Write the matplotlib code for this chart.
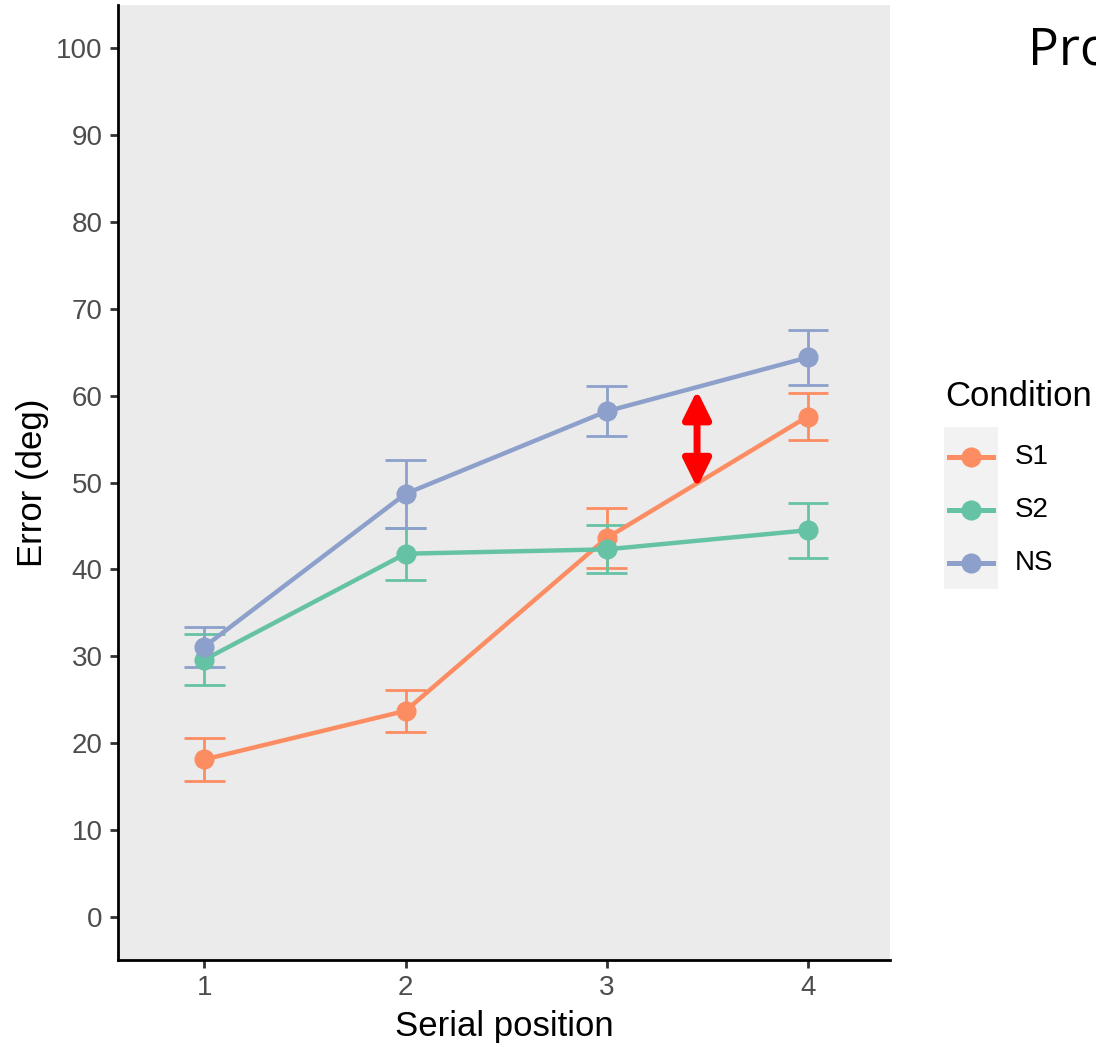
import matplotlib.pyplot as plt
import numpy as np
from matplotlib.lines import Line2D
from matplotlib.patches import FancyArrowPatch, Rectangle

# Mean recall error per serial position, with error bar half-widths
positions = [1, 2, 3, 4]
conditions = ["S1", "S2", "NS"]
mean_s1 = [18.1, 23.7, 43.6, 57.6]
mean_s2 = [29.6, 41.8, 42.3, 44.5]
mean_ns = [31.1, 48.7, 58.2, 64.4]
err_s1 = [2.45, 2.45, 3.45, 2.75]
err_s2 = [2.9, 3.0, 2.75, 3.15]
err_ns = [2.3, 3.9, 2.9, 3.2]

# Gap highlighted between NS and S1 lines
gap_x = 3.45
gap_lo, gap_hi = 49.4, 60.6

colors = ['#FC8D62', '#66C2A5', '#8DA0CB']
means = [mean_s1, mean_s2, mean_ns]
errs = [err_s1, err_s2, err_ns]

plt.rcParams['font.family'] = ['Liberation Sans', 'DejaVu Sans']

W, H = 1096, 1047
fig = plt.figure(figsize=(W / 100, H / 100), dpi=100)
ax = fig.add_axes([0.1077, 0.0831, 0.7044, 0.9121])
ax.set_facecolor('#EBEBEB')

x = np.array(positions)
cap = 0.1
for i, (m, e, c) in enumerate(zip(means, errs, colors)):
    m = np.array(m)
    e = np.array(e)
    # error bars: vertical stem plus caps
    ax.vlines(x, m - e, m + e, color=c, lw=2.0, zorder=2 + i * 0.1)
    ax.hlines(m - e, x - cap, x + cap, color=c, lw=2.0, zorder=2 + i * 0.1)
    ax.hlines(m + e, x - cap, x + cap, color=c, lw=2.0, zorder=2 + i * 0.1)
for i, (m, c) in enumerate(zip(means, colors)):
    ax.plot(x, m, color=c, lw=3.2, zorder=3 + i * 0.1)
for i, (m, c) in enumerate(zip(means, colors)):
    ax.plot(x, m, 'o', color=c, ms=13.5, zorder=4 + i * 0.1)

arrow = FancyArrowPatch((gap_x, gap_lo), (gap_x, gap_hi),
                        arrowstyle='<|-|>,head_length=0.85,head_width=0.42',
                        mutation_scale=20, color='#FF0000', lw=5,
                        shrinkA=0, shrinkB=0, zorder=6)
ax.add_patch(arrow)

ax.set_xlim(0.57, 4.41)
ax.set_ylim(-5, 105)
ax.set_xticks(positions)
ax.set_yticks(np.arange(0, 101, 10))
ax.tick_params(axis='both', colors='#333333', width=2, length=6,
               labelsize=20, labelcolor='#4D4D4D', pad=5)
for side in ['top', 'right']:
    ax.spines[side].set_visible(False)
for side in ['left', 'bottom']:
    ax.spines[side].set_linewidth(2)
    ax.spines[side].set_color('black')

ax.set_xlabel('Serial position', fontsize=25, labelpad=6)
ax.set_ylabel('Error (deg)', fontsize=25, labelpad=5)


def fx(px):
    return px / W


def fy(py):
    return 1 - py / H


# Legend, laid out in figure pixels
fig.add_artist(Rectangle((fx(944), fy(589)), 54 / W, 162 / H,
                         transform=fig.transFigure, facecolor='#F2F2F2',
                         edgecolor='none', zorder=0))
fig.text(fx(945), fy(396), 'Condition', fontsize=25, va='center', ha='left')
for label, c, row in zip(conditions, colors, [457, 510, 563]):
    fig.add_artist(Line2D([fx(949), fx(993)], [fy(row), fy(row)],
                          transform=fig.transFigure, color=c, lw=3.6))
    fig.add_artist(Line2D([fx(971)], [fy(row)], transform=fig.transFigure,
                          color=c, marker='o', ms=13.5))
    fig.text(fx(1015), fy(row), label, fontsize=20, va='center', ha='left')

fig.text(fx(1028), fy(51), 'Pro', fontsize=37,
         family=['Open Sans', 'DejaVu Sans'], va='center', ha='left')

fig.savefig('out.png', dpi=100, facecolor='white')
